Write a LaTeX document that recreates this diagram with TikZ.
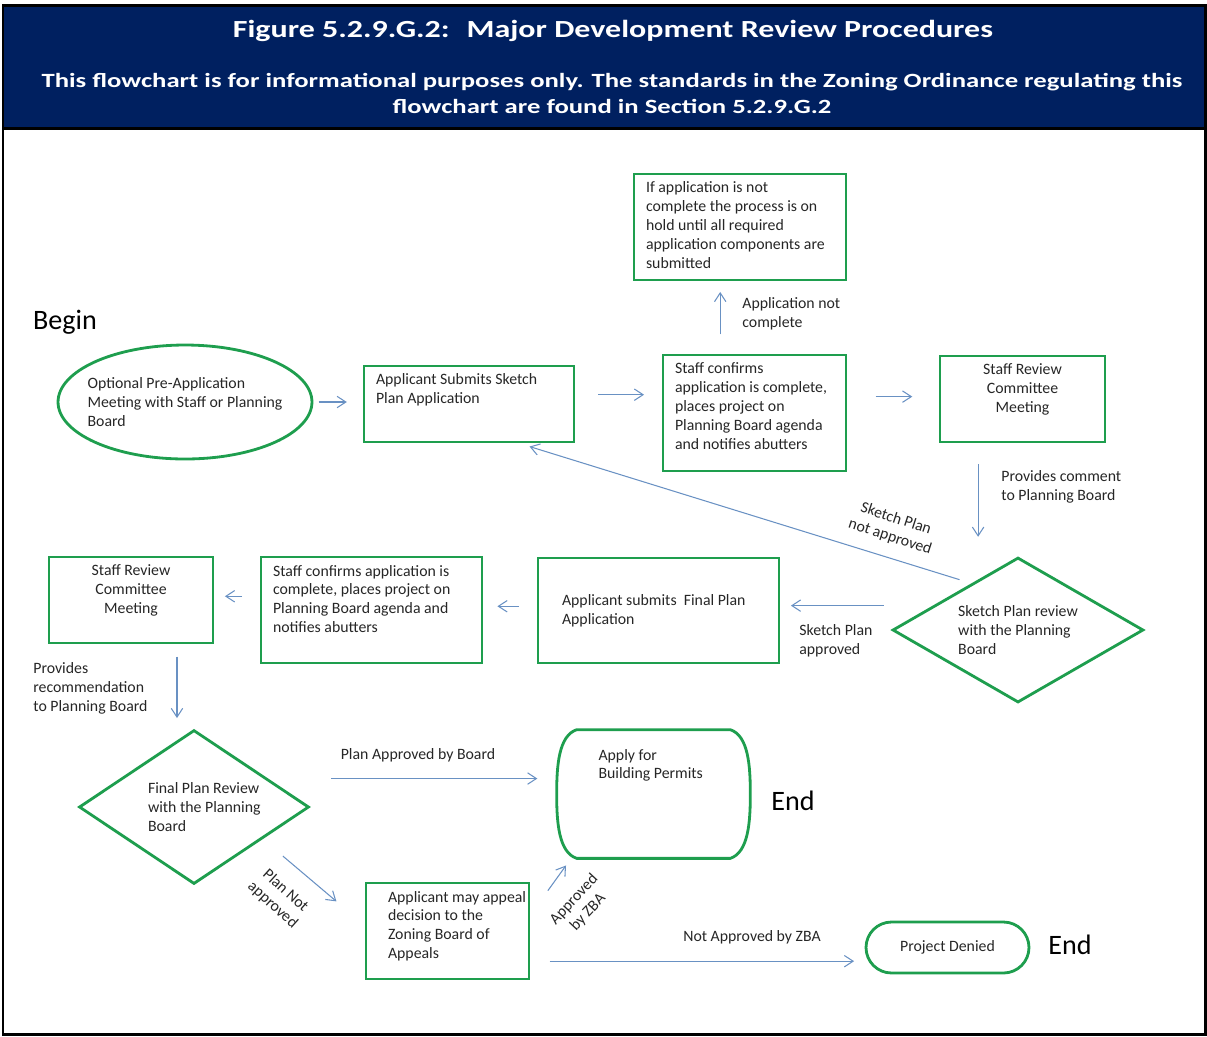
\documentclass[tikz,border=0pt]{standalone}
\usepackage{fontspec}
\setmainfont{Carlito}
\usetikzlibrary{shapes.geometric,shapes.misc,arrows.meta,positioning,calc}
\definecolor{headnavy}{RGB}{0,32,96}
\definecolor{boxgreen}{RGB}{30,158,78}
\definecolor{flowblue}{RGB}{105,145,195}
\newcommand{\tbox}[4][t]{\parbox[c][#3][#1]{#2}{#4}}

\begin{document}
\begin{tikzpicture}[x=0.02cm,y=-0.02cm]
    \tikzstyle{every node}+=[inner sep=0pt, text=black!85, font=\fontsize{9}{10.8}\selectfont]
    \tikzstyle{box}=[draw=boxgreen, line width=1.6pt, inner xsep=0.24cm, inner ysep=0.16cm]
    \tikzstyle{decision}=[diamond, draw=boxgreen, line width=1.6pt, align=left]
    \tikzstyle{terminal}=[rounded rectangle, draw=boxgreen, line width=1.6pt]
    \tikzstyle{flow}=[draw=flowblue, line width=0.6pt, -{Straight Barb[length=5pt,width=6.5pt]}]
    \tikzstyle{lbl}=[align=left]
    \tikzstyle{big}=[font=\fontsize{16}{19}\selectfont, text=black]
    \useasboundingbox (0,0) rectangle (1207,1036);
    % header
    \fill [headnavy] (3,5) rectangle (1205,127);
    \draw [black, line width=1.7pt] (3,5) rectangle (1205,1034);
    \draw [black, line width=1.7pt] (3,128) -- (1205,128);
    \node [text=white, font=\fontsize{14}{17}\selectfont\bfseries] (title) at (613,31) {\scalebox{1.3}[1]{Figure 5.2.9.G.2:~ Major Development Review Procedures}};
    \node [text=white, font=\fontsize{11.5}{14.7}\selectfont\bfseries] (subtitle) at (612,95) {\scalebox{1.32}[1]{\begin{tabular}{@{}c@{}}This flowchart is for informational purposes only. The standards in the Zoning Ordinance regulating this\\flowchart are found in Section 5.2.9.G.2\end{tabular}}};
    % sketch plan stage
    \node [big] (begin) at (65,322) {Begin};
    \node [ellipse, draw=boxgreen, line width=1.6pt, minimum width=5.08cm, minimum height=2.28cm, inner xsep=-0.3cm, align=left] (pre) at (185,402) {Optional Pre-Application\\Meeting with Staff or Planning\\Board};
    \node [box] (sk) at (469,404) {\tbox{3.72cm}{1.2cm}{\raggedright Applicant Submits Sketch\\Plan Application}};
    \node [box] (c1) at (754.5,413) {\tbox{3.18cm}{2cm}{\raggedright Staff confirms\\application is complete,\\places project on\\Planning Board agenda\\and notifies abutters}};
    \node [box] (hold) at (740,227) {\tbox{3.76cm}{1.8cm}{\raggedright If application is not\\complete the process is on\\hold until all required\\application components are\\submitted}};
    \node [box] (src1) at (1022.5,399) {\tbox{2.82cm}{1.4cm}{\centering Staff Review\\Committee\\Meeting}};
    \node [decision, aspect=1.7, minimum width=5.02cm, minimum height=2.9cm] (dsk) at (1018,630) {Sketch Plan review\\with the Planning\\Board};
    % final plan stage
    \node [box] (fa) at (658.5,610.5) {\tbox[c]{4.34cm}{1.78cm}{\raggedright\leftskip=0.24cm\relax Applicant submits~ Final Plan\\Application}};
    \node [box] (c2) at (371.5,610) {\tbox{3.94cm}{1.8cm}{\raggedright Staff confirms application is\\complete, places project on\\Planning Board agenda and\\notifies abutters}};
    \node [box] (src2) at (131,600) {\tbox{2.8cm}{1.4cm}{\centering Staff Review\\Committee\\Meeting}};
    \node [decision, aspect=1.5, minimum width=4.6cm, minimum height=3.08cm] (dfp) at (194,807) {\tbox[c]{2.8cm}{1.1cm}{\raggedright\leftskip=0.48cm\relax Final Plan Review\\with the Planning\\Board}};
    \node [minimum width=3.86cm, minimum height=2.56cm] (permits) at (653.5,794) {\tbox{2.2cm}{1.8cm}{\raggedright Apply for\\Building Permits}};
    \draw [boxgreen, line width=1.6pt] ($(permits.north west)+(20,0)$) -- ($(permits.north east)+(-20,0)$)
        .. controls ($(permits.north east)+(-2,6)$) and ($(permits.north east)+(0,36)$) .. (permits.east)
        .. controls ($(permits.south east)+(0,-36)$) and ($(permits.south east)+(-2,-6)$) .. ($(permits.south east)+(-20,0)$)
        -- ($(permits.south west)+(20,0)$)
        .. controls ($(permits.south west)+(2,-6)$) and ($(permits.south west)+(0,-36)$) .. (permits.west)
        .. controls ($(permits.north west)+(0,36)$) and ($(permits.north west)+(2,6)$) .. cycle;
    \node [big] (end1) at (793,801) {End};
    \node [box] (appeal) at (447.5,931) {\tbox{2.78cm}{1.6cm}{\raggedright\leftskip=0.2cm\relax \mbox{Applicant may appeal}\\decision to the\\Zoning Board of\\Appeals}};
    \node [terminal, minimum width=3.26cm, minimum height=1.02cm] (denied) at (947.5,947.5) {Project Denied};
    \node [big] (end2) at (1070,945) {End};
    % labels
    \node [lbl, anchor=west] (lnc) at (742,313.5) {Application not\\complete};
    \node [lbl, anchor=west] (lcomment) at (1001,486.5) {Provides comment\\to Planning Board};
    \node [align=center, rotate=-18] (lsknot) at (893,528) {Sketch Plan\\not approved};
    \node [lbl, anchor=west] (lskok) at (799,640.5) {Sketch Plan\\approved};
    \node [lbl, anchor=west] (lrec) at (33,688) {Provides\\recommendation\\to Planning Board};
    \node (lboard) at (418,755) {Plan Approved by Board};
    \node [align=center, rotate=-42] (lplannot) at (279,898) {Plan Not\\approved};
    \node [align=center, rotate=47] (lzba) at (581,906) {Approved\\by ZBA};
    \node (lzbano) at (752,937) {Not Approved by ZBA};
    % connectors
    \draw [flow, shorten <=3pt, shorten >=9pt] (pre.east) -- (pre.east -| sk.west);
    \draw [flow, shorten <=13pt, shorten >=10pt] (sk.5) -- (sk.5 -| c1.west);
    \draw [flow, shorten <=16pt, shorten >=15pt] (c1.10) -- (c1.10 -| src1.west);
    \draw [flow, shorten <=11pt, shorten >=6pt] (c1.120) -- (c1.120 |- hold.south);
    \draw [flow, shorten <=12pt, shorten >=11pt] (src1.-135) -- (src1.-135 |- dsk.north);
    \draw [flow, shorten <=7pt, shorten >=6pt] (dsk.135) -- (sk.-38);
    \draw [flow, shorten <=28pt, shorten >=6pt] (dsk.164) -- (dsk.164 -| fa.east);
    \draw [flow, shorten <=10pt, shorten >=8pt] (fa.178) -- (fa.178 -| c2.east);
    \draw [flow, shorten <=10pt, shorten >=6pt] (c2.173) -- (c2.173 -| src2.east);
    \draw [flow, shorten <=7pt, shorten >=6pt] (src2.-44) -- (src2.-44 |- dfp.north);
    \draw [flow, shorten <=36pt, shorten >=11pt] (dfp.21) -- (dfp.21 -| permits.west);
    \draw [flow, shorten <=15pt, shorten >=21pt] (dfp.-25) -- (appeal.176);
    \draw [flow, shorten <=17pt, shorten >=5pt] (appeal.11) -- (permits.-142);
    \draw [flow, shorten <=11pt, shorten >=6pt] (appeal.-20) -- (appeal.-20 -| denied.west);
\end{tikzpicture}
\end{document}
